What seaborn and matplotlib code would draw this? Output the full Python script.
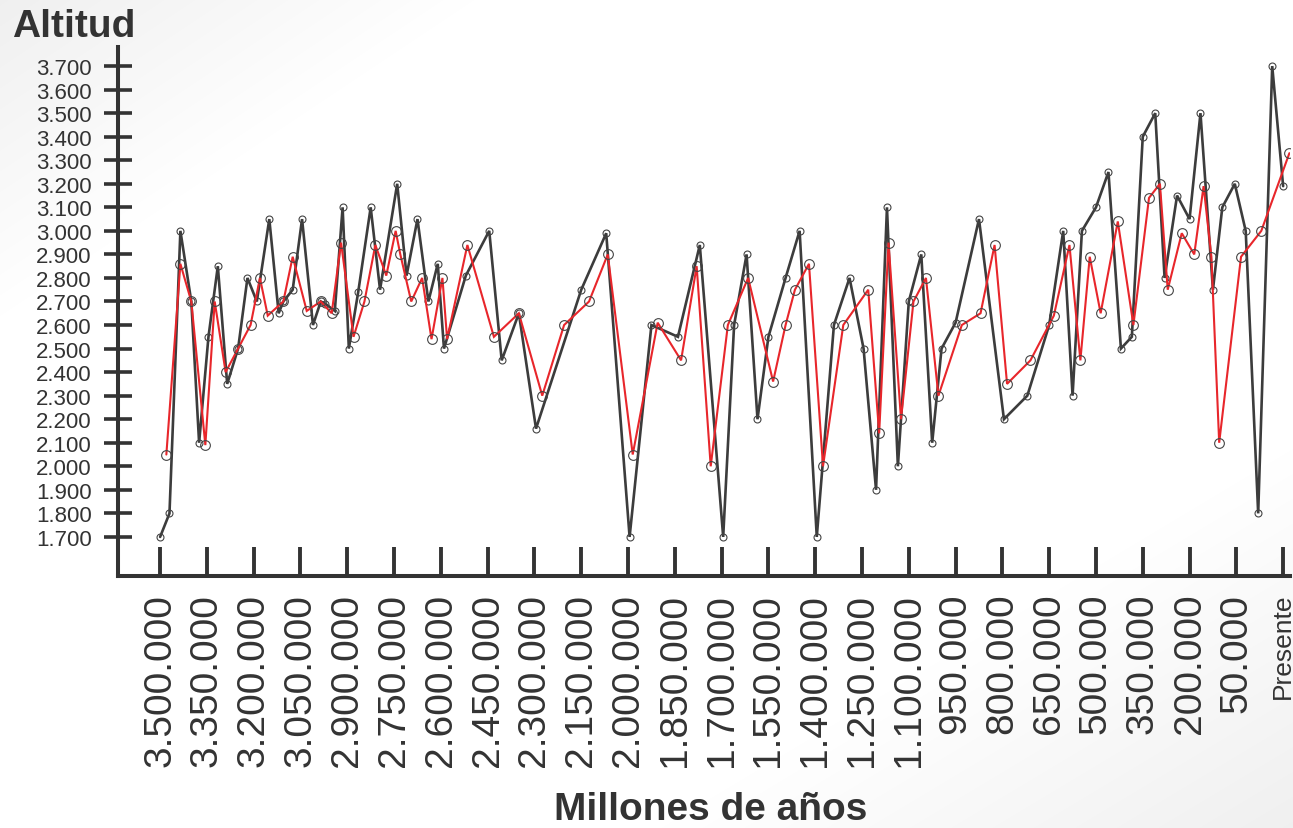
import numpy as np
import pandas as pd
import matplotlib
matplotlib.use("Agg")
import matplotlib.pyplot as plt
import matplotlib.transforms as mtransforms
import seaborn as sns

# Serie negra (años antes del presente, altitud en m)
black_years = [3500000, 3470000, 3435000, 3400000, 3375000, 3345000, 3315000, 3285000,
               3250000, 3220000, 3190000, 3150000, 3120000, 3105000, 3075000, 3045000,
               3010000, 2985000, 2970000, 2940000, 2915000, 2895000, 2865000, 2825000,
               2795000, 2740000, 2710000, 2675000, 2640000, 2610000, 2590000, 2520000,
               2445000, 2405000, 2350000, 2295000, 2150000, 2070000, 1995000, 1925000,
               1840000, 1770000, 1695000, 1660000, 1620000, 1585000, 1550000, 1495000,
               1450000, 1395000, 1340000, 1290000, 1245000, 1205000, 1170000, 1135000,
               1100000, 1060000, 1025000, 995000, 950000, 875000, 795000, 720000,
               650000, 605000, 575000, 545000, 500000, 460000, 420000, 385000,
               350000, 310000, 280000, 240000, 200000, 165000, 125000, 95000,
               55000, 20000, -20000, -65000, -100000]
black_alt = [1700, 1800, 3000, 2700, 2100, 2550, 2850, 2350,
             2500, 2800, 2700, 3050, 2650, 2700, 2750, 3050,
             2600, 2700, 2690, 2660, 3100, 2500, 2740, 3100,
             2750, 3200, 2810, 3050, 2700, 2860, 2500, 2810,
             3000, 2450, 2650, 2160, 2750, 2990, 1700, 2600,
             2550, 2940, 1700, 2600, 2900, 2200, 2550, 2800,
             3000, 1700, 2600, 2800, 2500, 1900, 3100, 2000,
             2700, 2900, 2100, 2500, 2610, 3050, 2200, 2300,
             2600, 3000, 2300, 3000, 3100, 3250, 2500, 2550,
             3400, 3500, 2800, 3150, 3050, 3500, 2750, 3100,
             3200, 3000, 1800, 3700, 3190]

# Serie roja
red_years = [3480000, 3435000, 3400000, 3355000, 3325000, 3290000, 3250000, 3210000,
             3180000, 3155000, 3105000, 3075000, 3030000, 2985000, 2950000, 2920000,
             2880000, 2845000, 2810000, 2775000, 2745000, 2730000, 2695000, 2660000,
             2630000, 2595000, 2580000, 2515000, 2430000, 2350000, 2275000, 2205000,
             2125000, 2065000, 1985000, 1905000, 1830000, 1780000, 1735000, 1680000,
             1615000, 1535000, 1495000, 1465000, 1420000, 1375000, 1310000, 1230000,
             1195000, 1165000, 1125000, 1085000, 1045000, 1005000, 930000, 870000,
             825000, 785000, 710000, 635000, 585000, 550000, 520000, 485000,
             430000, 380000, 330000, 295000, 270000, 225000, 185000, 155000,
             130000, 105000, 35000, -30000, -120000]
red_alt = [2050, 2860, 2700, 2090, 2700, 2400, 2500, 2600,
           2800, 2640, 2700, 2890, 2660, 2700, 2650, 2950,
           2550, 2700, 2940, 2810, 3000, 2900, 2700, 2800,
           2540, 2800, 2540, 2940, 2550, 2650, 2300, 2600,
           2700, 2900, 2050, 2610, 2450, 2850, 2000, 2600,
           2800, 2360, 2600, 2750, 2860, 2000, 2600, 2750,
           2140, 2950, 2200, 2700, 2800, 2300, 2600, 2650,
           2940, 2350, 2450, 2640, 2940, 2450, 2890, 2650,
           3040, 2600, 3140, 3200, 2750, 2990, 2900, 3190,
           2890, 2100, 2890, 3000, 3330]

y_ticks = list(range(1700, 3701, 100))
x_ticks = list(range(3500000, 49999, -150000)) + [-100000]
x_labels = [f"{v:,}".replace(",", ".") for v in x_ticks[:-1]] + ["Presente"]

black_df = pd.DataFrame({"years": black_years, "alt": black_alt})
red_df = pd.DataFrame({"years": red_years, "alt": red_alt})

sns.set_theme(style="white")
plt.rcParams["font.family"] = ["Liberation Sans", "DejaVu Sans"]
ink = "#333333"

fig = plt.figure(figsize=(12.93, 8.29), dpi=100)

# soft grey shading in the corners like the slide background
h, w = 829, 1293
yy, xx = np.mgrid[0:h, 0:w]
tl = np.clip(1 - (xx * 0.8 + yy * 1.2) / 380, 0, 1)
br = np.clip(1 - ((w - xx) * 0.6 + (h - yy)) / 380, 0, 1)
shade = 1 - 0.06 * np.maximum(tl, br)
bg = np.dstack([shade, shade, shade])
fig.figimage(bg, xo=0, yo=0, origin="upper", zorder=-10)

ax = fig.add_axes([118 / 1293, 1 - 577 / 829, (1290 - 118) / 1293, (577 - 48) / 829])
ax.set_facecolor("none")

sns.lineplot(data=black_df, x="years", y="alt", sort=False, estimator=None, ax=ax,
             color="#3c3c3c", linewidth=1.9, marker="o", markersize=5,
             markerfacecolor="none", markeredgecolor="#444444", markeredgewidth=0.8,
             solid_joinstyle="miter", zorder=2)
sns.lineplot(data=red_df, x="years", y="alt", sort=False, estimator=None, ax=ax,
             color="#e8262b", linewidth=1.5, marker="o", markersize=7,
             markerfacecolor="none", markeredgecolor="#444444", markeredgewidth=0.8,
             solid_joinstyle="miter", zorder=3)

ax.set_xlim(3635000, -122000)
ax.set_ylim(1534, 3781)

ax.set_yticks(y_ticks)
ax.set_yticklabels([f"{v:,}".replace(",", ".") for v in y_ticks])
ax.set_xticks(x_ticks)
ax.set_xticklabels(x_labels, rotation=90, va="top", ha="center")
for lab in ax.get_xticklabels():
    if lab.get_text() == "Presente":
        lab.set_fontsize(19)
        lab.set_transform(lab.get_transform() +
                          mtransforms.ScaledTranslation(-13 / 100, 0, fig.dpi_scale_trans))
    else:
        lab.set_fontsize(28)

ax.tick_params(axis="y", direction="inout", length=20, width=2.6, color=ink,
               labelsize=16, labelcolor=ink, pad=9, left=True)
ax.tick_params(axis="x", direction="in", length=21, width=2.8, color=ink,
               labelcolor=ink, pad=12, bottom=True)

sns.despine(ax=ax)
for side in ["left", "bottom"]:
    ax.spines[side].set_linewidth(2.9)
    ax.spines[side].set_color(ink)

ax.set_xlabel("")
ax.set_ylabel("")
fig.text(711 / 1293, 1 - 810 / 829, "Millones de años", ha="center", va="center",
         fontsize=28, fontweight="bold", color=ink)
fig.text(12 / 1293, 1 - 37 / 829, "Altitud", ha="left", va="baseline",
         fontsize=28, fontweight="bold", color=ink)

fig.savefig("out.png", dpi=100)
plt.close(fig)
